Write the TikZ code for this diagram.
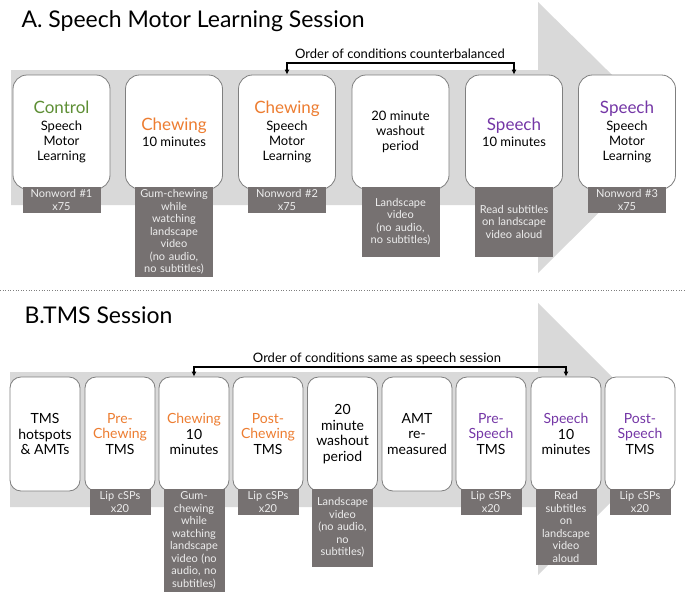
\documentclass[tikz,border=0pt]{standalone}
\usepackage{fontspec}
\setmainfont{Lato}
\usepackage{tikz}
\usetikzlibrary{arrows.meta}

\definecolor{bandgray}{HTML}{D9D9D9}
\definecolor{taggray}{HTML}{767171}
\definecolor{tagtext}{HTML}{EDEDED}
\definecolor{edgegray}{HTML}{7F7F7F}
\definecolor{chewcol}{HTML}{ED7D31}
\definecolor{speechcol}{HTML}{7436A6}
\definecolor{ctrlcol}{HTML}{5E8F35}

\newcommand{\hd}[2]{{\fontsize{17}{20}\selectfont\color{#1}#2}}

\tikzset{
	stage/.style={draw=edgegray, line width=0.8pt, fill=white, rounded corners=14pt, minimum width=97pt, minimum height=114pt, inner sep=0pt, align=center, font=\fontsize{13}{15}\selectfont},
	tstage/.style={stage, rounded corners=11pt, minimum width=70pt, font=\fontsize{14}{15.5}\selectfont},
	tag/.style={fill=taggray, text=tagtext, anchor=north, align=center, text width=74pt, inner xsep=2pt, inner ysep=3pt, font=\fontsize{11}{12.5}\selectfont},
	ttag/.style={tag, text width=57pt},
	order/.style={{Latex[length=5pt,width=5pt]}-{Latex[length=5pt,width=5pt]}, line width=1.8pt},
	title/.style={anchor=base west, font=\fontsize{23}{27}\selectfont},
}

\begin{document}
\begin{tikzpicture}[x=1pt, y=-1pt]
				\useasboundingbox (0,0) rectangle (685,600);
				\begin{scope}
					% A: sessione di apprendimento
					\fill[bandgray] (11,70) -- (538,70) -- (538,2) -- (675,137) -- (538,273) -- (538,205) -- (11,205) -- cycle;
					\node[title] (titA) at (18,27) {A. Speech Motor Learning Session};

					\node[stage] (a1) at (61.5,132) {\hd{ctrlcol}{Control}\\[2pt]Speech\\Motor\\Learning};
					\node[stage] (a2) at (174,132) {\hd{chewcol}{Chewing}\\[1pt]10 minutes};
					\node[stage] (a3) at (287,132) {\hd{chewcol}{Chewing}\\[2pt]Speech\\Motor\\Learning};
					\node[stage] (a4) at (400.5,132) {20 minute\\washout\\period};
					\node[stage] (a5) at (514,132) {\hd{speechcol}{Speech}\\[1pt]10 minutes};
					\node[stage] (a6) at (627,132) {\hd{speechcol}{Speech}\\[2pt]Speech\\Motor\\Learning};

					\node[tag] (ta1) at ([yshift=3pt]a1.south) {Nonword \#1\\x75};
					\node[tag] (ta2) at ([yshift=3pt]a2.south) {Gum-chewing\\while\\watching\\landscape\\video\\(no audio,\\no subtitles)};
					\node[tag] (ta3) at ([yshift=3pt]a3.south) {Nonword \#2\\x75};
					\node[tag, minimum height=70pt] (ta4) at ([yshift=3pt]a4.south) {Landscape\\video\\(no audio,\\no subtitles)};
					\node[tag, minimum height=70pt] (ta5) at ([yshift=3pt]a5.south) {Read subtitles\\on landscape\\video aloud};
					\node[tag] (ta6) at ([yshift=3pt]a6.south) {Nonword \#3\\x75};

					\node[anchor=base, font=\fontsize{13}{15}\selectfont] (ordA) at (400,58) {Order of conditions counterbalanced};
					\draw[order] (a3.north) -- ++(0,-12) -| (a5.north); % da a3 a a5
				\end{scope}

				\draw[edgegray, dotted, line width=0.6pt] (0,290) -- (685,290);

				\begin{scope}
					% B: sessione TMS
					\fill[bandgray] (10,372) -- (538,372) -- (538,303) -- (674,439) -- (538,575) -- (538,507) -- (10,507) -- cycle;
					\node[title] (titB) at (21,323) {B.TMS Session};

					\node[tstage] (b1) at (45,434) {TMS\\hotspots\\\& AMTs};
					\node[tstage] (b2) at (120,434) {\color{chewcol}Pre-\\\color{chewcol}Chewing\\TMS};
					\node[tstage] (b3) at (194,434) {\color{chewcol}Chewing\\10\\minutes};
					\node[tstage] (b4) at (268,434) {\color{chewcol}Post-\\\color{chewcol}Chewing\\TMS};
					\node[tstage] (b5) at (342.5,434) {20\\minute\\washout\\period};
					\node[tstage] (b6) at (417,434) {AMT\\re-\\measured};
					\node[tstage] (b7) at (491,434) {\color{speechcol}Pre-\\\color{speechcol}Speech\\TMS};
					\node[tstage] (b8) at (566,434) {\color{speechcol}Speech\\10\\minutes};
					\node[tstage] (b9) at (640,434) {\color{speechcol}Post-\\\color{speechcol}Speech\\TMS};

					\node[ttag] (tb2) at ([yshift=3pt]b2.south) {Lip cSPs\\x20};
					\node[ttag] (tb3) at ([yshift=3pt]b3.south) {Gum-\\chewing\\while\\watching\\landscape\\video (no\\audio, no\\subtitles)};
					\node[ttag] (tb4) at ([yshift=3pt]b4.south) {Lip cSPs\\x20};
					\node[ttag, minimum height=78pt] (tb5) at ([yshift=3pt]b5.south) {Landscape\\video\\(no audio,\\no\\subtitles)};
					\node[ttag] (tb7) at ([yshift=3pt]b7.south) {Lip cSPs\\x20};
					\node[ttag] (tb8) at ([yshift=3pt]b8.south) {Read\\subtitles\\on\\landscape\\video\\aloud};
					\node[ttag] (tb9) at ([yshift=3pt]b9.south) {Lip cSPs\\x20};

					\node[anchor=base, font=\fontsize{13}{15}\selectfont] (ordB) at (377,362) {Order of conditions same as speech session};
					\draw[order] (b3.north) -- ++(0,-10) -| (b8.north); % da b3 a b8
				\end{scope}
			\end{tikzpicture}
\end{document}
